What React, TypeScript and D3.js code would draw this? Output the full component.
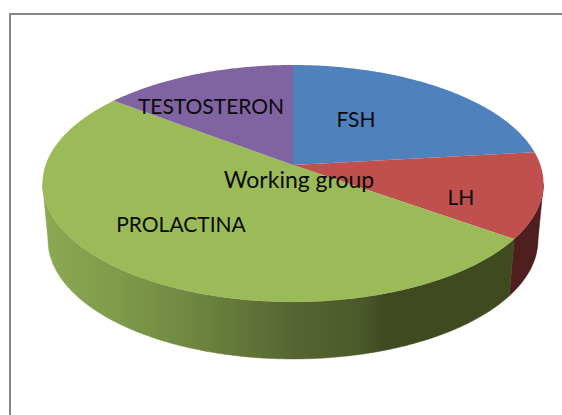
import React from 'react';
import * as d3 from 'd3';

const categories = ['FSH', 'LH', 'PROLACTINA', 'TESTOSTERON'];
const values = [23.2, 11.7, 50.5, 14.6];
const topColors = ['#4f81bd', '#c0504d', '#9bbb59', '#8064a2'];
const sideColors = ['#2c4a6e', '#4f1e1e', '#5a6b32', '#4a3a5e'];
const seriesName = 'Working group';

const width = 562;
const height = 415;

// perspective projection of the pie disc: u,v on the unit circle, v = -1 is the far edge
const persp = -0.156;
const top = { cx: 293, cy: 165, rx: 247.4, ry: 115.6 };
const bottom = { cx: 293, cy: 221.4, rx: 242, ry: 116.1 };

type Disc = typeof top;

function project(d: Disc, angle: number): [number, number] {
	const u = Math.sin(angle);
	const v = -Math.cos(angle);
	const w = 1 + persp * v;
	return [d.cx + (d.rx * u) / w, d.cy + (d.ry * v) / w];
}

function rim(d: Disc, a0: number, a1: number): [number, number][] {
	const n = Math.max(2, Math.ceil((a1 - a0) / 0.01));
	return d3.range(n + 1).map((i) => project(d, a0 + ((a1 - a0) * i) / n));
}

// the wall is only seen between the two silhouette angles of the lower disc
const sweep = d3.range(0, 2 * Math.PI, 0.002);
const wallStart = sweep[d3.greatestIndex(sweep, (a) => project(bottom, a)[0])];
const wallEnd = sweep[d3.leastIndex(sweep, (a) => project(bottom, a)[0])];

const line = d3.line();
const slices = d3.pie<number>().sort(null)(values);

const gradientStops: [number, string][] = [
	[48, '#8ba852'],
	[120, '#7f9a4a'],
	[200, '#6d843f'],
	[293, '#576533'],
	[360, '#4c5a2b'],
	[385, '#3f4a21'],
	[510, '#3f4a21'],
];

const labelPos: Record<string, [number, number]> = {
	FSH: [356, 127],
	LH: [461, 205],
	PROLACTINA: [181, 232],
	TESTOSTERON: [211, 114],
};

export default function App() {
	const gx = d3.scaleLinear().domain([48, 510]).range([0, 100]);
	return (
		<svg
			width={width}
			height={height}
			viewBox={`0 0 ${width} ${height}`}
			style={{ position: 'absolute', left: 0, top: 0, background: '#fff' }}
		>
			<defs>
				<linearGradient id="greenSide" gradientUnits="userSpaceOnUse" x1={48} x2={510} y1={0} y2={0}>
					{gradientStops.map(([x, c]) => (
						<stop key={x} offset={`${gx(x)}%`} stopColor={c} />
					))}
				</linearGradient>
			</defs>

			<path d={`M10,${height} V14 H${width}`} fill="none" stroke="#868686" strokeWidth={2} />

			{/* side walls first, the top surface covers whatever sticks out */}
			{slices.map((s, i) => {
				const a0 = Math.max(s.startAngle, wallStart);
				const a1 = Math.min(s.endAngle, wallEnd);
				if (a1 <= a0) return null;
				const a = rim(top, a0, a1);
				const b = rim(bottom, a0, a1).reverse();
				const fill = categories[i] === 'PROLACTINA' ? 'url(#greenSide)' : sideColors[i];
				return <path key={categories[i]} d={line([...a, ...b]) + 'Z'} fill={fill} stroke={fill} strokeWidth={0.5} />;
			})}

			{slices.map((s, i) => (
				<path
					key={categories[i]}
					d={line([[top.cx, top.cy], ...rim(top, s.startAngle, s.endAngle)]) + 'Z'}
					fill={topColors[i]}
				/>
			))}

			<g fontFamily="Lato, 'Open Sans', sans-serif" fontSize={21} fill="#0a0a0a" textAnchor="middle">
				{categories.map((c) => (
					<text key={c} x={labelPos[c][0]} y={labelPos[c][1]}>
						{c}
					</text>
				))}
				<text x={299} y={188} fontSize={23}>
					{seriesName}
				</text>
			</g>
		</svg>
	);
}
